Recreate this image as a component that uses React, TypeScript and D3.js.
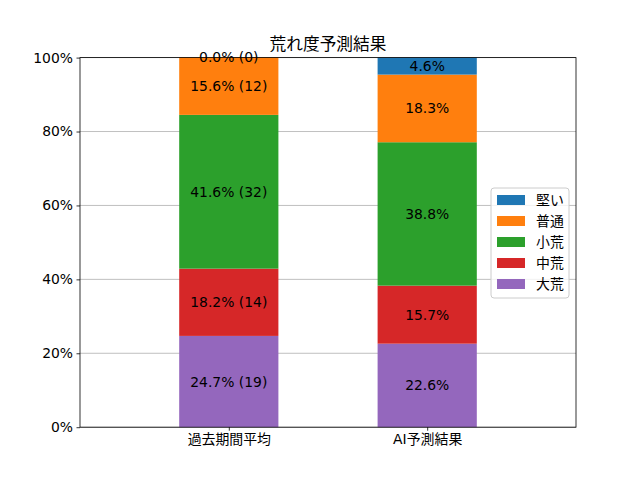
import { useEffect, useRef } from 'react';
import * as d3 from 'd3';

// data
const groups = ['過去期間平均', 'AI予測結果'];
const categories = ['大荒', '中荒', '小荒', '普通', '堅い'];
const colors = ['#9467bd', '#d62728', '#2ca02c', '#ff7f0e', '#1f77b4'];
const pastPct = [24.7, 18.2, 41.6, 15.6, 0.0];
const pastCount = [19, 14, 32, 12, 0];
const aiPct = [22.6, 15.7, 38.8, 18.3, 4.6];
const yTicks = [0, 20, 40, 60, 80, 100];
const legendOrder = ['堅い', '普通', '小荒', '中荒', '大荒'];

const FONT = '"DejaVu Sans", "Noto Sans CJK JP", sans-serif';

export default function App() {
  const svgRef = useRef<SVGSVGElement>(null);

  useEffect(() => {
    if (!svgRef.current) return;
    const svg = d3.select(svgRef.current);
    svg.selectAll('*').remove();

    const width = 640;
    const height = 480;
    const margin = { top: 57.6, right: 64, bottom: 52.8, left: 80 };
    const w = width - margin.left - margin.right;
    const h = height - margin.top - margin.bottom;

    svg.append('rect').attr('width', width).attr('height', height).attr('fill', 'white');

    const x = d3.scaleLinear().domain([-0.75, 1.75]).range([0, w]);
    const y = d3.scaleLinear().domain([0, 100]).range([h, 0]);
    const barW = x(0.5) - x(0);

    const g = svg.append('g').attr('transform', `translate(${margin.left},${margin.top})`);

    // grid (below bars)
    g.selectAll('.grid')
      .data(yTicks)
      .enter().append('line')
      .attr('x1', 0).attr('x2', w)
      .attr('y1', d => y(d)).attr('y2', d => y(d))
      .attr('stroke', '#b0b0b0')
      .attr('stroke-width', 0.8);

    const series = [
      { name: groups[0], pct: pastPct, labels: pastPct.map((p, i) => `${p.toFixed(1)}% (${pastCount[i]})`) },
      { name: groups[1], pct: aiPct, labels: aiPct.map(p => `${p.toFixed(1)}%`) },
    ];

    series.forEach((s, gi) => {
      let base = 0;
      s.pct.forEach((p, ci) => {
        const y0 = base;
        const y1 = base + p;
        base = y1;
        g.append('rect')
          .attr('x', x(gi) - barW / 2)
          .attr('width', barW)
          .attr('y', y(y1))
          .attr('height', y(y0) - y(y1))
          .attr('fill', colors[ci]);
      });
      base = 0;
      s.pct.forEach((p, ci) => {
        const mid = base + p / 2;
        base += p;
        g.append('text')
          .attr('x', x(gi))
          .attr('y', y(mid))
          .attr('text-anchor', 'middle')
          .attr('dominant-baseline', 'central')
          .style('font-family', FONT)
          .style('font-size', '13.9px')
          .attr('fill', 'black')
          .text(s.labels[ci]);
      });
    });

    // frame
    g.append('rect')
      .attr('width', w).attr('height', h)
      .attr('fill', 'none').attr('stroke', 'black').attr('stroke-width', 0.8);

    // y axis
    const yAxis = g.append('g')
      .call(d3.axisLeft(y).tickValues(yTicks).tickSize(3.5).tickPadding(3.5).tickFormat(d => `${d}%`));
    yAxis.select('.domain').remove();
    yAxis.selectAll('text').style('font-family', FONT).style('font-size', '13.9px').attr('fill', 'black');
    yAxis.selectAll('line').attr('stroke-width', 0.8);

    // x axis
    const xAxis = g.append('g')
      .attr('transform', `translate(0,${h})`)
      .call(d3.axisBottom(x).tickValues([0, 1]).tickSize(3.5).tickPadding(3.5).tickFormat((_, i) => groups[i]));
    xAxis.select('.domain').remove();
    xAxis.selectAll('text').style('font-family', FONT).style('font-size', '13.9px').attr('fill', 'black');
    xAxis.selectAll('line').attr('stroke-width', 0.8);

    // title
    svg.append('text')
      .attr('x', margin.left + w / 2)
      .attr('y', margin.top - 8)
      .attr('text-anchor', 'middle')
      .style('font-family', FONT)
      .style('font-size', '16.7px')
      .text('荒れ度予測結果');

    // legend
    const lg = svg.append('g').attr('transform', 'translate(491,188)');
    lg.append('rect')
      .attr('width', 78).attr('height', 110).attr('rx', 3)
      .attr('fill', 'white').attr('fill-opacity', 0.8)
      .attr('stroke', '#cccccc');
    legendOrder.forEach((name, i) => {
      const ci = categories.indexOf(name);
      const row = lg.append('g').attr('transform', `translate(0,${12 + i * 21})`);
      row.append('rect')
        .attr('x', 6).attr('y', -5).attr('width', 28).attr('height', 10)
        .attr('fill', colors[ci]);
      row.append('text')
        .attr('x', 45).attr('y', 0)
        .attr('dominant-baseline', 'central')
        .style('font-family', FONT)
        .style('font-size', '13.9px')
        .text(name);
    });
  }, []);

  return <svg ref={svgRef} width={640} height={480} style={{ display: 'block', margin: -8 }} />;
}
